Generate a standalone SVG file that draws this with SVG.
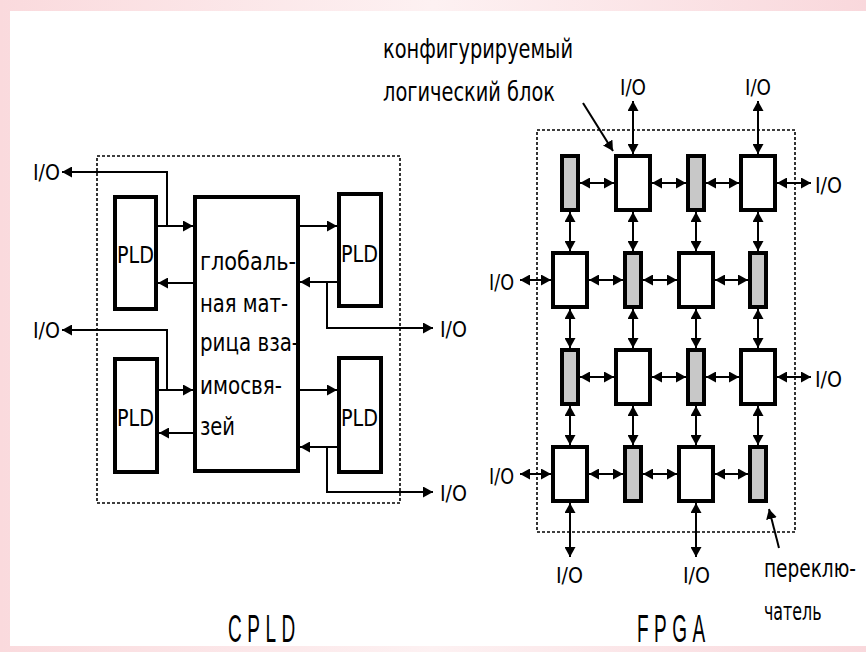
<svg xmlns="http://www.w3.org/2000/svg" width="866" height="652" viewBox="0 0 866 652">
<defs>
<linearGradient id="bg" x1="0" y1="0" x2="1" y2="0">
<stop offset="0" stop-color="#fadadd"/>
<stop offset="0.5" stop-color="#fdf1f2"/>
<stop offset="1" stop-color="#f9d8dc"/>
</linearGradient>
<marker id="ah" markerUnits="userSpaceOnUse" markerWidth="11" markerHeight="11" refX="10" refY="5.5" orient="auto-start-reverse">
<path d="M0,0 L10,5.5 L0,11 z" fill="#000"/>
</marker>
<style>
.blk{fill:#fff;stroke:#000;stroke-width:4}
.gry{fill:#c8c8c8;stroke:#000;stroke-width:4}
.dot{fill:none;stroke:#000;stroke-width:1.6;stroke-dasharray:3 2}
.ln{fill:none;stroke:#000;stroke-width:2;marker-end:url(#ah)}
.dbl{fill:none;stroke:#000;stroke-width:2;marker-start:url(#ah);marker-end:url(#ah)}
.t{font-family:"DejaVu Sans","Noto Sans",sans-serif;fill:#000}
.io{font-size:22px}
.pld{font-size:23px}
.mx{font-size:25px}
.lb{font-size:27px}
.sw{font-size:24px}
.big{font-family:"Liberation Sans",Arial,sans-serif;font-size:38px;fill:#000;letter-spacing:11px}
</style>
</defs>
<rect x="0" y="0" width="866" height="652" fill="url(#bg)"/>
<rect x="10" y="11" width="856" height="635" fill="#fff"/>

<!-- CPLD -->
<rect class="dot" x="97" y="156" width="303" height="347"/>
<g id="pld-tl"><rect class="blk" x="115" y="197" width="41" height="112"/><text class="t pld" x="117" y="263" textLength="37" lengthAdjust="spacingAndGlyphs">PLD</text></g>
<g id="pld-bl"><rect class="blk" x="115" y="359" width="42" height="113"/><text class="t pld" x="117" y="426" textLength="37" lengthAdjust="spacingAndGlyphs">PLD</text></g>
<g id="pld-tr"><rect class="blk" x="339" y="194" width="42" height="112"/><text class="t pld" x="341" y="262" textLength="37" lengthAdjust="spacingAndGlyphs">PLD</text></g>
<g id="pld-br"><rect class="blk" x="339" y="358" width="42" height="114"/><text class="t pld" x="341" y="426" textLength="37" lengthAdjust="spacingAndGlyphs">PLD</text></g>
<g id="matrix"><rect class="blk" x="195" y="197" width="103" height="274"/>
<text class="t mx" x="200" y="270" textLength="96" lengthAdjust="spacingAndGlyphs">глобаль-</text>
<text class="t mx" x="200" y="312" textLength="88" lengthAdjust="spacingAndGlyphs">ная мат-</text>
<text class="t mx" x="200" y="351" textLength="99" lengthAdjust="spacingAndGlyphs">рица вза-</text>
<text class="t mx" x="200" y="394" textLength="82" lengthAdjust="spacingAndGlyphs">имосвя-</text>
<text class="t mx" x="200" y="435" textLength="35" lengthAdjust="spacingAndGlyphs">зей</text>
</g>
<g id="cpld-io">
<text class="t io" x="33" y="180" textLength="27" lengthAdjust="spacingAndGlyphs">I/O</text>
<text class="t io" x="33" y="338" textLength="27" lengthAdjust="spacingAndGlyphs">I/O</text>
<text class="t io" x="440" y="337" textLength="27" lengthAdjust="spacingAndGlyphs">I/O</text>
<text class="t io" x="440" y="501" textLength="27" lengthAdjust="spacingAndGlyphs">I/O</text>
</g>
<g id="cpld-connectors">
<path class="ln" d="M158,226 H193"/>
<path class="ln" d="M167,226 V172 H62"/>
<path class="ln" d="M193,283 H158"/>
<path class="ln" d="M159,390 H193"/>
<path class="ln" d="M167,390 V330 H62"/>
<path class="ln" d="M193,433 H159"/>
<path class="ln" d="M300,226 H337"/>
<path class="ln" d="M337,282 H300"/>
<path class="ln" d="M327,282 V328 H433"/>
<path class="ln" d="M300,390 H337"/>
<path class="ln" d="M337,447 H300"/>
<path class="ln" d="M327,447 V492 H433"/>
</g>
<text class="big" transform="translate(228,642) scale(0.5,1)" x="0" y="0">CPLD</text>

<!-- FPGA -->
<rect class="dot" x="537" y="130" width="258" height="402"/>
<g id="r1c1"><rect class="gry" x="562" y="156" width="16" height="54"/></g>
<g id="r1c2"><rect class="blk" x="616" y="156" width="34" height="54"/></g>
<g id="r1c3"><rect class="gry" x="688" y="156" width="16" height="54"/></g>
<g id="r1c4"><rect class="blk" x="741" y="156" width="34" height="54"/></g>
<g id="r2c1"><rect class="blk" x="553" y="253" width="34" height="54"/></g>
<g id="r2c2"><rect class="gry" x="625" y="253" width="16" height="54"/></g>
<g id="r2c3"><rect class="blk" x="679" y="253" width="34" height="54"/></g>
<g id="r2c4"><rect class="gry" x="750" y="253" width="16" height="54"/></g>
<g id="r3c1"><rect class="gry" x="562" y="350" width="16" height="54"/></g>
<g id="r3c2"><rect class="blk" x="616" y="350" width="34" height="54"/></g>
<g id="r3c3"><rect class="gry" x="688" y="350" width="16" height="54"/></g>
<g id="r3c4"><rect class="blk" x="741" y="350" width="34" height="54"/></g>
<g id="r4c1"><rect class="blk" x="553" y="447" width="34" height="54"/></g>
<g id="r4c2"><rect class="gry" x="625" y="447" width="16" height="54"/></g>
<g id="r4c3"><rect class="blk" x="679" y="447" width="34" height="54"/></g>
<g id="r4c4"><rect class="gry" x="750" y="447" width="16" height="54"/></g>

<g id="fpga-io">
<text class="t io" x="620" y="95" textLength="26" lengthAdjust="spacingAndGlyphs">I/O</text>
<text class="t io" x="745" y="95" textLength="26" lengthAdjust="spacingAndGlyphs">I/O</text>
<text class="t io" x="815" y="193" textLength="27" lengthAdjust="spacingAndGlyphs">I/O</text>
<text class="t io" x="489" y="290" textLength="25" lengthAdjust="spacingAndGlyphs">I/O</text>
<text class="t io" x="815" y="387" textLength="27" lengthAdjust="spacingAndGlyphs">I/O</text>
<text class="t io" x="489" y="484" textLength="25" lengthAdjust="spacingAndGlyphs">I/O</text>
<text class="t io" x="556" y="583" textLength="27" lengthAdjust="spacingAndGlyphs">I/O</text>
<text class="t io" x="683" y="583" textLength="27" lengthAdjust="spacingAndGlyphs">I/O</text>
</g>

<g id="fpga-connectors">
<path class="dbl" d="M580,183 H614"/>
<path class="dbl" d="M652,183 H686"/>
<path class="dbl" d="M706,183 H739"/>
<path class="dbl" d="M777,183 H811"/>
<path class="dbl" d="M520,280 H551"/>
<path class="dbl" d="M589,280 H623"/>
<path class="dbl" d="M643,280 H677"/>
<path class="dbl" d="M715,280 H748"/>
<path class="dbl" d="M580,377 H614"/>
<path class="dbl" d="M652,377 H686"/>
<path class="dbl" d="M706,377 H739"/>
<path class="dbl" d="M777,377 H811"/>
<path class="dbl" d="M520,474 H551"/>
<path class="dbl" d="M589,474 H623"/>
<path class="dbl" d="M643,474 H677"/>
<path class="dbl" d="M715,474 H748"/>
<path class="dbl" d="M633,101 V154"/>
<path class="dbl" d="M758,101 V154"/>
<path class="dbl" d="M570,212 V251"/>
<path class="dbl" d="M633,212 V251"/>
<path class="dbl" d="M696,212 V251"/>
<path class="dbl" d="M758,212 V251"/>
<path class="dbl" d="M570,309 V348"/>
<path class="dbl" d="M633,309 V348"/>
<path class="dbl" d="M696,309 V348"/>
<path class="dbl" d="M758,309 V348"/>
<path class="dbl" d="M570,406 V445"/>
<path class="dbl" d="M633,406 V445"/>
<path class="dbl" d="M696,406 V445"/>
<path class="dbl" d="M758,406 V445"/>
<path class="dbl" d="M570,503 V557"/>
<path class="dbl" d="M696,503 V557"/>
<path class="ln" d="M583,103 L613,151"/>
<path class="ln" d="M779,548 L769,509"/>
</g>
<g id="labels">
<text class="t lb" x="383" y="58" textLength="190" lengthAdjust="spacingAndGlyphs">конфигурируемый</text>
<text class="t lb" x="383" y="101" textLength="172" lengthAdjust="spacingAndGlyphs">логический блок</text>
<text class="t sw" transform="translate(764,577) scale(0.8,1)" x="0" y="0" textLength="115" lengthAdjust="spacingAndGlyphs">переклю-</text>
<text class="t sw" transform="translate(764,620) scale(0.8,1)" x="0" y="0" textLength="72" lengthAdjust="spacingAndGlyphs">чатель</text>
</g>
<text class="big" transform="translate(637,642) scale(0.5,1)" x="0" y="0">FPGA</text>
</svg>
